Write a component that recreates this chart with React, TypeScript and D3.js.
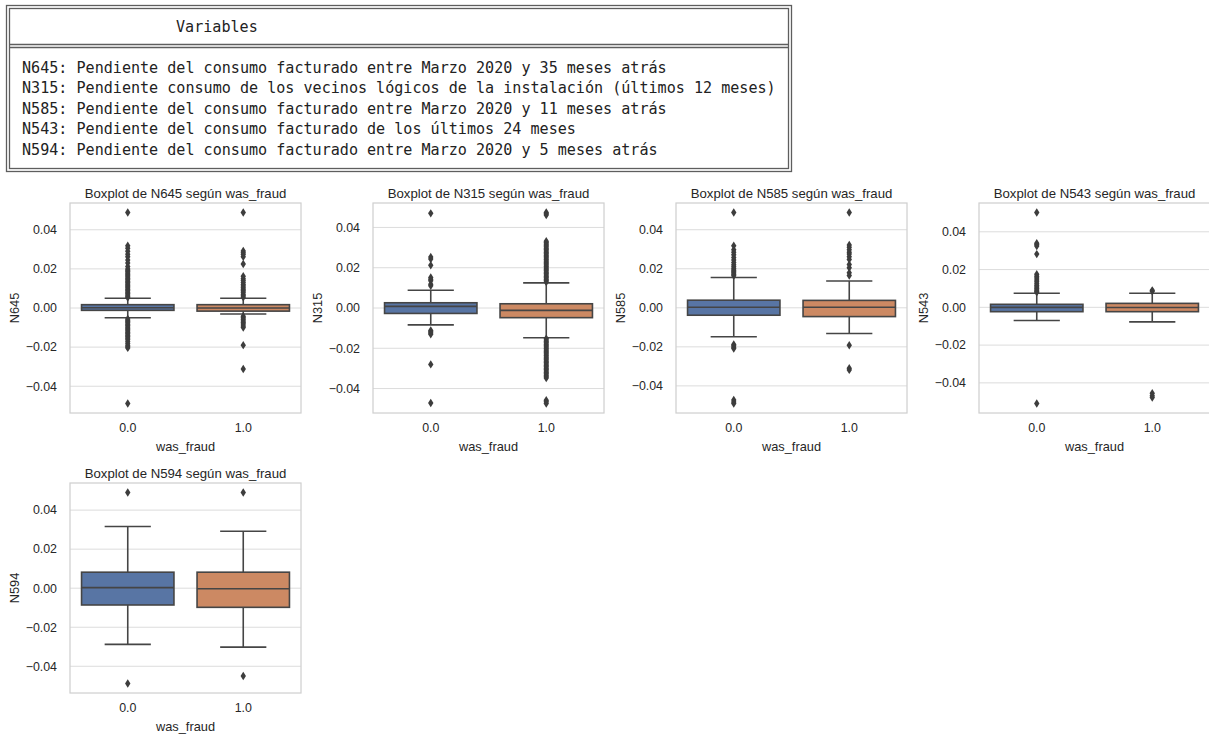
import React, { useEffect, useRef } from 'react';
import * as d3 from 'd3';

const groups = ['0.0', '1.0'];
const variables = ['N645', 'N315', 'N585', 'N543', 'N594'];
const descriptions = [
  'N645: Pendiente del consumo facturado entre Marzo 2020 y 35 meses atrás',
  'N315: Pendiente consumo de los vecinos lógicos de la instalación (últimos 12 meses)',
  'N585: Pendiente del consumo facturado entre Marzo 2020 y 11 meses atrás',
  'N543: Pendiente del consumo facturado de los últimos 24 meses',
  'N594: Pendiente del consumo facturado entre Marzo 2020 y 5 meses atrás',
];
const yTicks = [-0.04, -0.02, 0, 0.02, 0.04];

// [whisker low, q1, median, q3, whisker high] for was_fraud 0.0 and 1.0
const n645Box = [
  [-0.0050, -0.0012, 0.0001, 0.0017, 0.0050],
  [-0.0031, -0.0016, 0.0000, 0.0017, 0.0050],
];
const n645Fliers = [
  [0.0488, 0.0318, 0.0305, 0.0290, 0.0275, 0.0262, 0.0245, 0.0230, 0.0212, 0.0200, 0.0193, 0.0186,
    0.0179, 0.0172, 0.0165, 0.0158, 0.0151, 0.0144, 0.0137, 0.0130, 0.0123, 0.0116, 0.0109, 0.0102,
    0.0095, 0.0088, 0.0081, 0.0074, 0.0067, 0.0060, 0.0054, -0.0056, -0.0062, -0.0069, -0.0076,
    -0.0083, -0.0090, -0.0097, -0.0104, -0.0111, -0.0118, -0.0125, -0.0132, -0.0139, -0.0146,
    -0.0153, -0.0160, -0.0170, -0.0180, -0.0190, -0.0198, -0.0204, -0.0488],
  [0.0488, 0.0292, 0.0283, 0.0274, 0.0262, 0.0225, 0.0162, 0.0150, 0.0140, 0.0130, 0.0120, 0.0112,
    0.0104, 0.0096, 0.0088, 0.0080, 0.0070, 0.0062, 0.0055, -0.0042, -0.0050, -0.0058, -0.0066,
    -0.0074, -0.0082, -0.0092, -0.0100, -0.0190, -0.0312],
];

const n315Box = [
  [-0.0084, -0.0027, 0.0008, 0.0026, 0.0088],
  [-0.0148, -0.0048, -0.0012, 0.0021, 0.0125],
];
const n315Fliers = [
  [0.0470, 0.0253, 0.0243, 0.0212, 0.0152, 0.0143, 0.0135, 0.0118, 0.0110, -0.0112, -0.0118,
    -0.0124, -0.0130, -0.0280, -0.0472],
  [0.0474, 0.0468, 0.0462, 0.0332, 0.0325, 0.0318, 0.0311, 0.0304, 0.0297, 0.0290, 0.0283, 0.0276,
    0.0269, 0.0262, 0.0255, 0.0248, 0.0241, 0.0234, 0.0227, 0.0220, 0.0213, 0.0206, 0.0199, 0.0192,
    0.0185, 0.0178, 0.0171, 0.0164, 0.0157, 0.0150, 0.0143, 0.0136, 0.0129, -0.0152, -0.0159,
    -0.0166, -0.0173, -0.0180, -0.0187, -0.0194, -0.0201, -0.0208, -0.0215, -0.0222, -0.0229,
    -0.0236, -0.0243, -0.0250, -0.0257, -0.0264, -0.0271, -0.0278, -0.0285, -0.0292, -0.0299,
    -0.0306, -0.0313, -0.0320, -0.0327, -0.0334, -0.0341, -0.0348, -0.0458, -0.0466, -0.0474],
];

const n585Box = [
  [-0.0148, -0.0038, 0.0003, 0.0039, 0.0155],
  [-0.0132, -0.0045, 0.0003, 0.0038, 0.0137],
];
const n585Fliers = [
  [0.0488, 0.0318, 0.0298, 0.0285, 0.0272, 0.0258, 0.0245, 0.0232, 0.0220, 0.0210, 0.0200, 0.0192,
    0.0185, 0.0178, 0.0171, 0.0164, -0.0188, -0.0195, -0.0202, -0.0209, -0.0472, -0.0482, -0.0490],
  [0.0488, 0.0322, 0.0310, 0.0298, 0.0285, 0.0275, 0.0262, 0.0248, 0.0222, 0.0205, 0.0180, 0.0165,
    -0.0192, -0.0310, -0.0318],
];

const n543Box = [
  [-0.0070, -0.0023, 0.0000, 0.0016, 0.0075],
  [-0.0077, -0.0023, -0.0001, 0.0021, 0.0075],
];
const n543Fliers = [
  [0.0502, 0.0340, 0.0333, 0.0325, 0.0282, 0.0175, 0.0165, 0.0155, 0.0145, 0.0135, 0.0125, 0.0115,
    0.0108, 0.0100, 0.0092, 0.0085, 0.0080, -0.0509],
  [0.0085, 0.0090, -0.0455, -0.0468, -0.0478],
];

const n594Box = [
  [-0.0288, -0.0086, 0.0003, 0.0082, 0.0316],
  [-0.0302, -0.0098, -0.0003, 0.0082, 0.0292],
];
const n594Fliers = [
  [0.0490, -0.0488],
  [0.0490, -0.0450],
];

const boxStats = [n645Box, n315Box, n585Box, n543Box, n594Box];
const fliers = [n645Fliers, n315Fliers, n585Fliers, n543Fliers, n594Fliers];
const boxColors = ['#5875a4', '#cc8963'];

const App = () => {
  const svgRef = useRef(null);

  useEffect(() => {
    const svg = d3.select(svgRef.current);
    svg.selectAll('*').remove();

    // Variables table (text block at the top)
    const table = svg.append('g');
    const border = '#5e5e5e';
    const mono = 'DejaVu Sans Mono, monospace';
    const charW = 9.08;
    [[6.5, 5.5, 785, 166], [9.5, 8.5, 779, 160]].forEach(([x, y, w, h]) => {
      table.append('rect')
        .attr('x', x).attr('y', y).attr('width', w).attr('height', h)
        .attr('fill', 'none').attr('stroke', border).attr('stroke-width', 1.3);
    });
    [44.5, 47.5].forEach(y => {
      table.append('line')
        .attr('x1', 9.5).attr('x2', 788.5).attr('y1', y).attr('y2', y)
        .attr('stroke', border).attr('stroke-width', 1.3);
    });
    table.append('text')
      .attr('x', 176).attr('y', 32)
      .attr('font-family', mono)
      .attr('font-size', 16)
      .attr('textLength', 9 * charW)
      .attr('lengthAdjust', 'spacingAndGlyphs')
      .attr('fill', '#222')
      .text('Variables');
    table.selectAll('.desc')
      .data(descriptions)
      .enter()
      .append('text')
      .attr('class', 'desc')
      .attr('x', 22)
      .attr('y', (d, i) => 72.5 + i * 20.5)
      .attr('font-family', mono)
      .attr('font-size', 16)
      .attr('textLength', d => d.length * charW)
      .attr('lengthAdjust', 'spacingAndGlyphs')
      .attr('fill', '#222')
      .text(d => d);

    const plotW = 231;
    const plotH = 210;
    const font = 'Liberation Sans, Arial, sans-serif';
    const textColor = '#262626';
    const lineColor = '#454545';

    variables.forEach((name, i) => {
      const left = 70 + (i % 4) * 303;
      const top = 203 + Math.floor(i / 4) * 280;
      const g = svg.append('g').attr('transform', `translate(${left},${top})`);

      const allVals = boxStats[i].flat().concat(fliers[i].flat());
      const lo = d3.min(allVals);
      const hi = d3.max(allVals);
      const pad = (hi - lo) * 0.05;

      const x = d3.scaleBand().domain(groups).range([0, plotW]);
      const y = d3.scaleLinear().domain([lo - pad, hi + pad]).range([plotH, 0]);
      const boxW = x.bandwidth() * 0.8;
      const capW = boxW * 0.5;

      // grid
      g.selectAll('.grid')
        .data(yTicks)
        .enter()
        .append('line')
        .attr('x1', 0).attr('x2', plotW)
        .attr('y1', d => y(d)).attr('y2', d => y(d))
        .attr('stroke', '#dcdcdc').attr('stroke-width', 1);

      groups.forEach((grp, j) => {
        const [wl, q1, med, q3, wh] = boxStats[i][j];
        const cx = x(grp) + x.bandwidth() / 2;
        const bg = g.append('g');

        bg.append('line')
          .attr('x1', cx).attr('x2', cx).attr('y1', y(q3)).attr('y2', y(wh))
          .attr('stroke', lineColor).attr('stroke-width', 1.6);
        bg.append('line')
          .attr('x1', cx).attr('x2', cx).attr('y1', y(q1)).attr('y2', y(wl))
          .attr('stroke', lineColor).attr('stroke-width', 1.6);
        [wl, wh].forEach(v => {
          bg.append('line')
            .attr('x1', cx - capW / 2).attr('x2', cx + capW / 2)
            .attr('y1', y(v)).attr('y2', y(v))
            .attr('stroke', lineColor).attr('stroke-width', 1.6);
        });
        bg.append('rect')
          .attr('x', cx - boxW / 2)
          .attr('y', y(q3))
          .attr('width', boxW)
          .attr('height', y(q1) - y(q3))
          .attr('fill', boxColors[j])
          .attr('stroke', lineColor).attr('stroke-width', 1.6);
        bg.append('line')
          .attr('x1', cx - boxW / 2).attr('x2', cx + boxW / 2)
          .attr('y1', y(med)).attr('y2', y(med))
          .attr('stroke', lineColor).attr('stroke-width', 1.6);

        // outliers as thin diamonds
        bg.selectAll('.flier')
          .data(fliers[i][j])
          .enter()
          .append('path')
          .attr('class', 'flier')
          .attr('d', d => `M${cx},${y(d) - 4.2}L${cx + 2.7},${y(d)}L${cx},${y(d) + 4.2}L${cx - 2.7},${y(d)}Z`)
          .attr('fill', '#3d3d3d');
      });

      // frame
      g.append('rect')
        .attr('x', 0).attr('y', 0).attr('width', plotW).attr('height', plotH)
        .attr('fill', 'none').attr('stroke', '#d0d0d0').attr('stroke-width', 1.25);

      // y tick labels
      g.selectAll('.ytick')
        .data(yTicks)
        .enter()
        .append('text')
        .attr('x', -13)
        .attr('y', d => y(d))
        .attr('dy', '0.35em')
        .attr('text-anchor', 'end')
        .attr('font-family', font).attr('font-size', 12.4).attr('fill', textColor)
        .text(d => d3.format('.2f')(d).replace('-', '\u2212'));

      // x tick labels
      g.selectAll('.xtick')
        .data(groups)
        .enter()
        .append('text')
        .attr('x', d => x(d) + x.bandwidth() / 2)
        .attr('y', plotH + 15)
        .attr('dy', '0.35em')
        .attr('text-anchor', 'middle')
        .attr('font-family', font).attr('font-size', 12.4).attr('fill', textColor)
        .text(d => d);

      g.append('text')
        .attr('x', plotW / 2).attr('y', plotH + 34)
        .attr('dy', '0.35em')
        .attr('text-anchor', 'middle')
        .attr('font-family', font).attr('font-size', 12.8).attr('fill', textColor)
        .text('was_fraud');

      g.append('text')
        .attr('transform', `translate(-55,${plotH / 2}) rotate(-90)`)
        .attr('dy', '0.35em')
        .attr('text-anchor', 'middle')
        .attr('font-family', font).attr('font-size', 12.8).attr('fill', textColor)
        .text(name);

      g.append('text')
        .attr('x', plotW / 2).attr('y', -10)
        .attr('dy', '0.35em')
        .attr('text-anchor', 'middle')
        .attr('font-family', font).attr('font-size', 13.2).attr('fill', textColor)
        .text(`Boxplot de ${name} según was_fraud`);
    });
  }, []);

  return (
    <svg ref={svgRef} width={1209} height={734}
      style={{ position: 'absolute', left: 0, top: 0, background: '#fff' }} />
  );
};

export default App;
